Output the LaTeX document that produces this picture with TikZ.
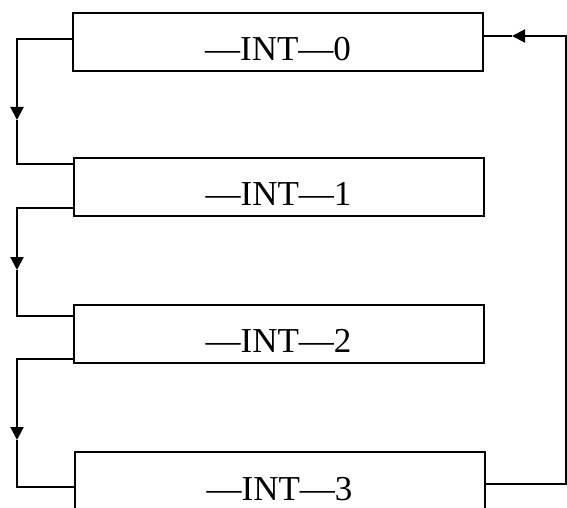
\documentclass[tikz,border=0pt]{standalone}
\usepackage{fontspec}
\setmainfont{Liberation Serif}
\usetikzlibrary{arrows.meta}

\newcommand*{\xleft}{17}
\newcommand*{\xright}{565.5}

\begin{document}
\begin{tikzpicture}
[
	x=1pt, y=-1pt,
	intbox/.style={draw,line width=2pt,minimum width=410pt,inner xsep=0pt,inner ysep=0pt,
		text height=48pt,text depth=10pt,font=\fontsize{35}{38}\selectfont},
	flow/.style={line width=2pt},
	tip/.style={-{Triangle[width=13pt,length=13pt]}}
]

	\useasboundingbox (0,0) rectangle (567,508);

	% interrupt boxes
	\node[intbox] (int0) at (278,42) {—INT—0};
	\node[intbox] (int1) at (278.5,186.5) {—INT—1};
	\node[intbox] (int2) at (278.5,333.5) {—INT—2};
	\node[intbox] (int3) at (279.5,481) {—INT—3};

	% chain on the left
	\foreach \a/\b/\yout/\ytip/\yin in {0/1/39/120/164, 1/2/208/270/316, 2/3/359/440/487} {
		\draw[flow,tip] (int\a.west |- 0,\yout) -| (\xleft,\ytip);
		\draw[flow] (\xleft,\ytip) |- (int\b.west |- 0,\yin);
	}

	% return on the right
	\draw[flow,tip] (int3.east |- 0,484) -| (\xright,36) -- (512,36);
	\draw[flow] (512,36) -- (int0.east |- 0,36);

\end{tikzpicture}
\end{document}
